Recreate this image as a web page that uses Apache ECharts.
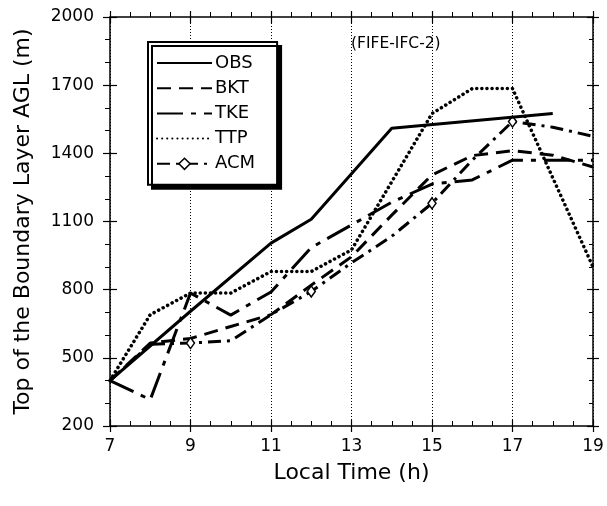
<!DOCTYPE html>
<html>
<head>
<meta charset="utf-8">
<script src="https://cdn.jsdelivr.net/npm/echarts@6/dist/echarts.min.js"></script>
<style>
html,body{margin:0;padding:0;background:#fff;}
#c{width:607px;height:506px;}
</style>
</head>
<body>
<div id="c"></div>
<script>
// ---- data ----
const hours = [7, 8, 9, 10, 11, 12, 13, 14, 15, 16, 17, 18, 19];
const obsValues = [400, null, 705, null, 1005, 1110, null, 1510, null, null, null, 1575, null];
const bktValues = [400, 565, 585, 638, 690, 820, 945, 1128, 1305, 1390, 1412, 1392, 1340];
const tkeValues = [400, 316, 785, 688, 790, 985, 1085, 1185, 1265, 1283, 1370, 1370, 1370];
const ttpValues = [400, 690, 785, 785, 880, 880, 975, null, 1575, 1685, 1685, null, 900];
const acmValues = [400, 560, 565, 575, 690, 792, 918, 1035, 1180, 1370, 1540, 1515, 1475];
const acmMarkerHours = [9, 12, 15, 17];
const seriesNames = ['OBS', 'BKT', 'TKE', 'TTP', 'ACM'];
const xTickLabels = ['7', '9', '11', '13', '15', '17', '19'];
const yTickLabels = ['200', '500', '800', '1100', '1400', '1700', '2000'];
const xTitle = 'Local Time (h)';
const yTitle = 'Top of the Boundary Layer AGL (m)';
const noteText = '(FIFE-IFC-2)';

const FONT = 'DejaVu Sans';
function pairs(vals) {
  return hours.map((h, i) => [h, vals[i]]).filter(d => d[1] !== null);
}

const chart = echarts.init(document.getElementById('c'), null, {renderer: 'canvas'});

const axisLineStyle = {color: '#000', width: 1.5};
const gridPos = {left: 110, right: 14, top: 17, bottom: 80};

const xBase = {type: 'value', min: 7, max: 19, interval: 2, gridIndex: 0};
const yBase = {type: 'value', min: 200, max: 2000, interval: 300, gridIndex: 0};

const hiddenSymbol = {color: 'rgba(0,0,0,0)', borderColor: 'rgba(0,0,0,0)', borderWidth: 0};
const acmSymbolStyle = {color: '#fff', borderColor: '#000', borderWidth: 1.5};

const option = {
  animation: false,
  backgroundColor: '#fff',
  textStyle: {fontFamily: FONT, color: '#000'},
  grid: gridPos,
  xAxis: [
    Object.assign({}, xBase, {
      position: 'bottom',
      axisLine: {show: true, onZero: false, lineStyle: axisLineStyle},
      axisTick: {show: true, inside: true, length: 6, lineStyle: {color: '#000', width: 1.2}},
      minorTick: {show: true, splitNumber: 4, length: 5, lineStyle: {color: '#000', width: 1}},
      axisLabel: {
        color: '#000', fontFamily: FONT, fontSize: 17, margin: 12,
        formatter: v => xTickLabels[Math.round((v - 7) / 2)]
      },
      splitLine: {show: true, lineStyle: {color: '#000', width: 1, type: [1, 2]}},
      name: xTitle, nameLocation: 'middle', nameGap: 36,
      nameTextStyle: {fontFamily: FONT, fontSize: 22, color: '#000'}
    }),
    Object.assign({}, xBase, {
      position: 'bottom',
      axisLine: {show: false, onZero: false},
      axisTick: {show: true, inside: false, length: 6, lineStyle: {color: '#000', width: 1.2}},
      axisLabel: {show: false}, splitLine: {show: false}
    }),
    Object.assign({}, xBase, {
      position: 'top',
      axisLine: {show: true, onZero: false, lineStyle: axisLineStyle},
      axisTick: {show: true, inside: false, length: 6, lineStyle: {color: '#000', width: 1.2}},
      minorTick: {show: true, splitNumber: 4, length: 5, lineStyle: {color: '#000', width: 1}},
      axisLabel: {show: false}, splitLine: {show: false}
    }),
    Object.assign({}, xBase, {
      position: 'top',
      axisLine: {show: false, onZero: false},
      axisTick: {show: true, inside: true, length: 6, lineStyle: {color: '#000', width: 1.2}},
      axisLabel: {show: false}, splitLine: {show: false}
    })
  ],
  yAxis: [
    Object.assign({}, yBase, {
      position: 'left',
      axisLine: {show: true, onZero: false, lineStyle: axisLineStyle},
      axisTick: {show: true, inside: false, length: 7, lineStyle: {color: '#000', width: 1.2}},
      minorTick: {show: true, splitNumber: 3, length: 5, lineStyle: {color: '#000', width: 1}},
      axisLabel: {
        color: '#000', fontFamily: FONT, fontSize: 17, margin: 16,
        formatter: v => yTickLabels[Math.round((v - 200) / 300)]
      },
      splitLine: {show: false},
      name: yTitle, nameLocation: 'middle', nameGap: 76, nameRotate: 90,
      nameTextStyle: {fontFamily: FONT, fontSize: 22, color: '#000'}
    }),
    Object.assign({}, yBase, {
      position: 'left',
      axisLine: {show: false, onZero: false},
      axisTick: {show: true, inside: true, length: 7, lineStyle: {color: '#000', width: 1.2}},
      axisLabel: {show: false}, splitLine: {show: false}
    }),
    Object.assign({}, yBase, {
      position: 'right',
      axisLine: {show: true, onZero: false, lineStyle: axisLineStyle},
      axisTick: {show: true, inside: true, length: 6, lineStyle: {color: '#000', width: 1.2}},
      minorTick: {show: true, splitNumber: 3, length: 4, lineStyle: {color: '#000', width: 1}},
      axisLabel: {show: false}, splitLine: {show: false}
    }),
    Object.assign({}, yBase, {
      position: 'right',
      axisLine: {show: false, onZero: false},
      axisTick: {show: true, inside: false, length: 6, lineStyle: {color: '#000', width: 1.2}},
      axisLabel: {show: false}, splitLine: {show: false}
    })
  ],
  legend: {
    data: seriesNames.map(n => n === 'ACM'
      ? {name: n, itemStyle: acmSymbolStyle}
      : {name: n, itemStyle: hiddenSymbol}),
    orient: 'vertical',
    left: 148, top: 42,
    itemWidth: 55, itemHeight: 14, itemGap: 7.2,
    padding: [12, 22, 12, 8],
    backgroundColor: '#fff',
    borderColor: '#000', borderWidth: 2,
    shadowColor: '#000', shadowBlur: 0, shadowOffsetX: 4, shadowOffsetY: 4,
    textStyle: {fontFamily: FONT, fontSize: 18, color: '#000', padding: [0, 0, 0, -2]},
    z: 10
  },
  graphic: [{
    type: 'text', left: 351, top: 36, z: 5,
    style: {text: noteText, fontFamily: FONT, fontSize: 15.5, fill: '#000'}
  }],
  series: [
    {
      name: 'OBS', type: 'line', data: pairs(obsValues), symbol: 'none',
      lineStyle: {color: '#000', width: 3, type: 'solid'}, itemStyle: {color: '#000'}, z: 4
    },
    {
      name: 'BKT', type: 'line', data: pairs(bktValues), symbol: 'none',
      lineStyle: {color: '#000', width: 3, type: [14, 8]}, itemStyle: {color: '#000'}, z: 3
    },
    {
      name: 'TKE', type: 'line', data: pairs(tkeValues), symbol: 'none',
      lineStyle: {color: '#000', width: 3, type: [26, 8, 5, 8]}, itemStyle: {color: '#000'}, z: 3
    },
    {
      name: 'TTP', type: 'line', data: pairs(ttpValues), symbol: 'none',
      lineStyle: {color: '#000', width: 3.5, type: [0.1, 5], cap: 'round'}, itemStyle: {color: '#000'}, z: 3
    },
    {
      name: 'ACM', type: 'line',
      data: pairs(acmValues).map(d => ({value: d, symbol: acmMarkerHours.includes(d[0]) ? 'diamond' : 'none'})),
      symbol: 'diamond', symbolSize: [8, 11], showSymbol: true,
      lineStyle: {color: '#000', width: 3, type: [13, 6, 3, 6]},
      itemStyle: acmSymbolStyle, z: 3
    }
  ]
};
chart.setOption(option);
</script>
</body>
</html>
